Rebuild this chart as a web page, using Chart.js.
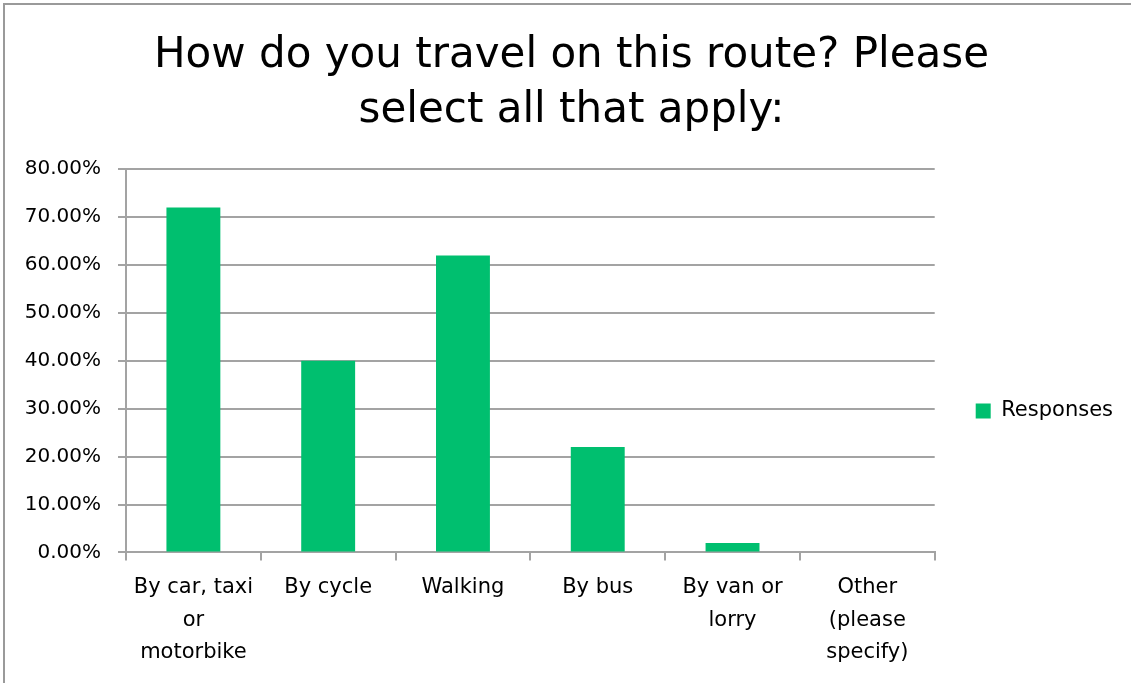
<!DOCTYPE html>
<html>
<head>
<meta charset="utf-8">
<title>How do you travel on this route?</title>
<script src="https://cdn.jsdelivr.net/npm/chart.js@4/dist/chart.umd.min.js"></script>
<style>
    html, body { margin: 0; padding: 0; background: #fff; }
    #wrap { width: 1131px; height: 683px; position: relative; }
</style>
</head>
<body>
<div id="wrap"><canvas id="travelChart" width="1131" height="683"></canvas></div>
<script>
// Survey data
const categories = [
    ['By car, taxi', 'or', 'motorbike'],
    'By cycle',
    'Walking',
    'By bus',
    ['By van or', 'lorry'],
    ['Other', '(please', 'specify)']
];
const responses = [72, 40, 62, 22, 2, 0];
const seriesName = 'Responses';
const titleLines = ['How do you travel on this route? Please', 'select all that apply:'];
const yTicks = { min: 0, max: 80, step: 10 };

const barGreen = '#00BF6F';
const gridGray = '#a3a3a3';
const labelFont = '"DejaVu Sans", Verdana, sans-serif';

// Outer frame of the original picture (top and left edges only)
const framePlugin = {
    id: 'frame',
    afterDraw(chart) {
        const ctx = chart.ctx;
        ctx.save();
        ctx.strokeStyle = '#9a9a9a';
        ctx.lineWidth = 2;
        ctx.beginPath();
        ctx.moveTo(4, chart.height);
        ctx.lineTo(4, 4);
        ctx.lineTo(chart.width, 4);
        ctx.stroke();
        ctx.restore();
    }
};

new Chart(document.getElementById('travelChart'), {
    type: 'bar',
    data: {
        labels: categories,
        datasets: [{
            label: seriesName,
            data: responses,
            backgroundColor: barGreen,
            borderWidth: 0,
            barPercentage: 0.4,
            categoryPercentage: 1.0
        }]
    },
    options: {
        responsive: false,
        animation: false,
        layout: {
            padding: { left: 20, right: 8, top: 0, bottom: 3 }
        },
        plugins: {
            title: {
                display: true,
                text: titleLines,
                color: '#000',
                font: { family: '"DejaVu Sans", sans-serif', size: 42, weight: 'normal', lineHeight: 1.3 },
                padding: { top: 29, bottom: 31 }
            },
            legend: {
                position: 'right',
                // blank legend title only pushes the single entry down to where it sits in the original
                title: {
                    display: true,
                    text: ' ',
                    font: { family: labelFont, size: 21 },
                    padding: { top: 116.8, bottom: 0 }
                },
                labels: {
                    color: '#000',
                    font: { family: labelFont, size: 21 },
                    boxWidth: 15,
                    boxHeight: 15,
                    padding: 41
                }
            },
            tooltip: { enabled: false }
        },
        scales: {
            x: {
                offset: true,
                grid: {
                    offset: true,
                    drawOnChartArea: false,
                    drawTicks: true,
                    tickLength: 8,
                    color: gridGray,
                    lineWidth: 2
                },
                border: { display: true, color: gridGray, width: 2 },
                ticks: {
                    color: '#000',
                    font: { family: labelFont, size: 21, lineHeight: 1.548 },
                    padding: 11,
                    maxRotation: 0,
                    autoSkip: false
                }
            },
            y: {
                min: yTicks.min,
                max: yTicks.max,
                afterFit(scale) {
                    scale.width = 106;
                },
                grid: {
                    color: gridGray,
                    lineWidth: 2,
                    tickLength: 8
                },
                border: { display: true, color: gridGray, width: 2 },
                ticks: {
                    stepSize: yTicks.step,
                    color: '#000',
                    font: { family: labelFont, size: 20 },
                    padding: 17,
                    callback: v => v.toFixed(2) + '%'
                }
            }
        }
    },
    plugins: [framePlugin]
});
</script>
</body>
</html>
